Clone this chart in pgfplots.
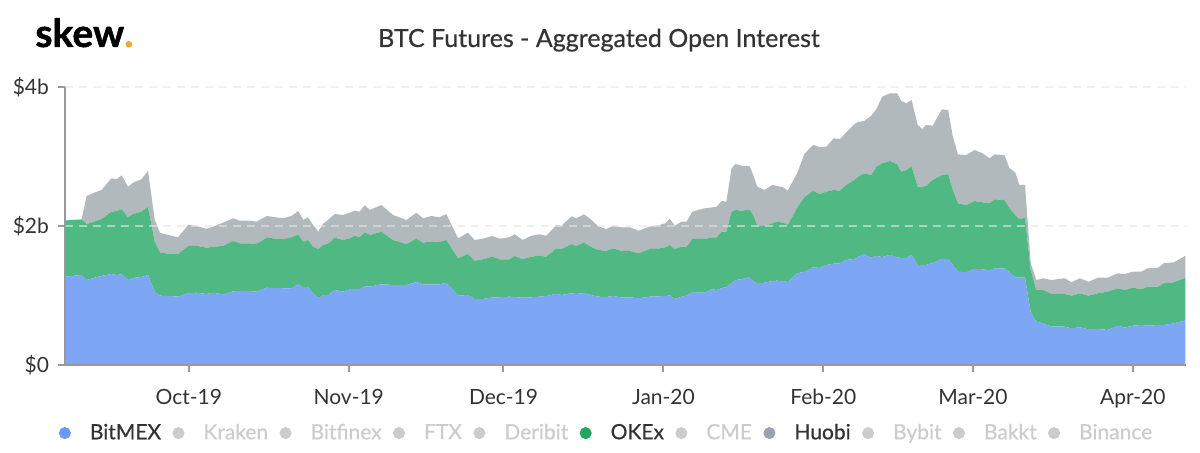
\documentclass[border=0pt]{standalone}
\usepackage{pgfplots}
\usepackage{pgfplotstable}
\pgfplotsset{compat=1.18}
\usepackage{fontspec}
\setmainfont{Lato}
\newfontfamily\latomed{Lato}[FakeBold=0.6]
\newfontfamily\latoblk{Lato}[BoldFeatures={FakeBold=1.2}]
\definecolor{cBitmex}{HTML}{7DA6F5}
\definecolor{cOkex}{HTML}{50B983}
\definecolor{cHuobi}{HTML}{B2B9BC}
\definecolor{dBitmex}{HTML}{6A9AF5}
\definecolor{dOkex}{HTML}{22A663}
\definecolor{dHuobi}{HTML}{9AA4AE}
\definecolor{inact}{HTML}{CCCCCC}
\definecolor{txt}{HTML}{333333}
\definecolor{axgray}{HTML}{999999}
\definecolor{gridc}{HTML}{E6E6E6}
\definecolor{skeworange}{HTML}{F0A92F}

% day = days since 1 Oct 2019; values in $ billions
\pgfplotstableread{
day bitmex okex huobi
-24 1.271 0.809 0
-20.8 1.295 0.799 0
-19.8 1.223 0.806 0.403
-18.5 1.252 0.806 0.417
-16.9 1.281 0.820 0.417
-15 1.309 0.896 0.481
-14 1.295 0.921 0.456
-13 1.305 0.935 0.489
-11.8 1.223 0.902 0.440
-10.8 1.252 0.921 0.450
-9.2 1.266 0.940 0.466
-7.9 1.295 0.978 0.522
-6.6 1.055 0.719 0.312
-5.6 0.997 0.624 0.282
-3.7 0.993 0.604 0.269
-2.1 0.983 0.614 0.240
-0.1 1.036 0.676 0.306
1.5 1.040 0.676 0.283
3.4 1.022 0.666 0.273
4.7 1.040 0.662 0.288
6.6 1.017 0.695 0.335
8.6 1.060 0.724 0.327
9.9 1.065 0.686 0.325
11.8 1.065 0.686 0.325
13.1 1.055 0.686 0.321
15.1 1.112 0.719 0.312
18.3 1.104 0.705 0.302
19.9 1.104 0.734 0.306
21.2 1.161 0.714 0.341
22.2 1.118 0.652 0.317
23.1 1.127 0.672 0.327
24.1 1.032 0.671 0.312
25.1 0.964 0.701 0.253
26.0 1.007 0.719 0.302
27.1 1.007 0.744 0.345
28.3 1.079 0.753 0.341
29.9 1.055 0.744 0.360
31.2 1.089 0.734 0.368
32.2 1.094 0.763 0.364
33.1 1.094 0.744 0.368
34.1 1.127 0.783 0.388
35.1 1.127 0.744 0.360
37.3 1.161 0.757 0.384
39.6 1.151 0.647 0.360
42.2 1.151 0.590 0.345
44.1 1.194 0.623 0.374
45.4 1.161 0.599 0.351
47.0 1.161 0.619 0.364
48.6 1.161 0.609 0.355
49.9 1.184 0.614 0.374
52.2 0.997 0.538 0.288
54.1 1.007 0.590 0.306
55.4 0.950 0.551 0.298
57.0 0.950 0.571 0.296
58.8 0.971 0.587 0.298
60.3 0.974 0.547 0.296
62.1 0.983 0.538 0.317
63.2 0.978 0.590 0.312
64.7 0.968 0.553 0.278
66.4 0.974 0.584 0.302
68.0 0.983 0.590 0.308
69.3 0.993 0.565 0.302
71.3 1.026 0.653 0.340
72.2 1.007 0.658 0.335
74.2 1.032 0.709 0.399
75.1 1.022 0.691 0.399
76.6 1.036 0.724 0.409
77.9 1.007 0.695 0.394
79.3 0.983 0.672 0.345
80.9 0.978 0.666 0.312
82.2 0.993 0.686 0.321
83.7 0.974 0.671 0.337
85.5 0.974 0.666 0.341
87.2 0.960 0.647 0.325
89.3 0.983 0.686 0.321
90.6 0.986 0.683 0.335
92.4 0.993 0.701 0.345
93.2 1.003 0.724 0.378
94.2 0.950 0.715 0.340
95.5 0.983 0.719 0.360
96.5 0.997 0.705 0.360
97.6 1.055 0.758 0.393
98.7 1.040 0.773 0.417
100 1.040 0.773 0.442
101.3 1.089 0.748 0.429
102.3 1.079 0.758 0.440
103.3 1.108 0.810 0.442
104.2 1.118 0.800 0.432
105.2 1.180 1.026 0.624
106 1.223 1.007 0.662
107.3 1.237 0.983 0.643
108.7 1.266 0.974 0.623
109.4 1.209 0.950 0.576
110.2 1.176 0.829 0.561
111.6 1.184 0.816 0.518
113.1 1.209 0.830 0.551
114.0 1.213 0.849 0.514
115.2 1.209 0.839 0.509
116.1 1.194 0.820 0.494
117.9 1.319 0.940 0.499
119.4 1.342 1.079 0.624
121.0 1.406 1.098 0.662
122.3 1.396 1.065 0.676
123.6 1.439 1.055 0.647
125.0 1.458 1.060 0.744
126.2 1.463 1.045 0.744
127.4 1.511 1.079 0.753
129.0 1.525 1.137 0.801
129.7 1.558 1.147 0.791
130.9 1.593 1.165 0.753
132.3 1.544 1.190 0.853
133.3 1.568 1.285 0.830
134.4 1.554 1.348 0.958
135.9 1.583 1.353 0.974
137.3 1.550 1.338 1.022
138.1 1.540 1.242 1.017
139.1 1.540 1.266 0.960
140.1 1.583 1.271 0.960
141.3 1.439 1.127 0.888
142.2 1.439 1.127 0.830
142.9 1.439 1.137 0.878
144.2 1.468 1.194 0.781
146.0 1.525 1.209 0.945
147.2 1.525 1.223 0.921
148.1 1.439 1.079 0.767
149.1 1.342 0.984 0.705
150.7 1.334 0.968 0.719
152.3 1.381 0.978 0.734
153.9 1.377 0.964 0.705
155.2 1.363 0.964 0.647
156.2 1.391 0.993 0.647
158.1 1.391 0.983 0.647
159.1 1.334 0.921 0.576
160.2 1.262 0.896 0.614
161.0 1.256 0.840 0.494
162.1 1.256 0.863 0.471
163.2 0.753 0.614 0.096
164.3 0.623 0.456 0.144
165.6 0.600 0.479 0.168
167.2 0.551 0.471 0.201
169.8 0.551 0.471 0.226
171.1 0.528 0.469 0.193
172.7 0.542 0.489 0.216
174.4 0.514 0.483 0.201
176.2 0.518 0.514 0.224
178.1 0.504 0.551 0.201
180.1 0.565 0.538 0.216
181.4 0.537 0.542 0.230
183.0 0.565 0.547 0.230
184.6 0.576 0.514 0.253
185.9 0.565 0.561 0.265
187.9 0.576 0.551 0.273
189.0 0.576 0.600 0.288
191.0 0.600 0.590 0.288
193.2 0.643 0.613 0.317
}\oidata

\begin{document}
\begin{tikzpicture}
\path[use as bounding box] (-32.5pt,-44pt) rectangle (567.5pt,182.5pt);
\begin{axis}[
  name=ax, at={(0,0)}, anchor=south west,
  scale only axis, width=560.5pt, height=139pt,
  xmin=-24, xmax=193.3, ymin=0, ymax=4,
  stack plots=y,
  axis on top,
  axis x line*=bottom, axis y line*=left,
  axis line style={-, draw=axgray, line width=1pt},
  xtick={0,31,61,92,123,152,183},
  xticklabels={Oct-19,Nov-19,Dec-19,Jan-20,Feb-20,Mar-20,Apr-20},
  ytick={0,2,4},
  yticklabels={\$0,\$2b,\$4b},
  tick align=outside, major tick length=3.5pt,
  tick style={draw=axgray, line width=1pt},
  ymajorgrids,
  grid style={draw=gridc, dash pattern=on 4pt off 3pt, line width=0.8pt, opacity=0.6},
  tick label style={font=\fontsize{10.5}{12}\selectfont, text=txt},
  xticklabel style={yshift=-5pt},
  yticklabel style={xshift=-1pt},
  legend columns=-1,
  legend style={draw=none, fill=none, inner sep=0pt, at={(-0.0058,-0.245)}, anchor=west,
    font=\latomed\fontsize{10.5}{12}\selectfont,
    nodes={inner sep=0pt},
    /tikz/every odd column/.style={column sep=9.5pt},
    /tikz/every even column/.style={column sep=5.7pt}},
  legend image code/.code={\fill[#1] (0pt,0pt) circle (2.8pt);},
]
\addlegendimage{dBitmex}
\addlegendimage{inact}
\addlegendimage{inact}
\addlegendimage{inact}
\addlegendimage{inact}
\addlegendimage{dOkex}
\addlegendimage{inact}
\addlegendimage{dHuobi}
\addlegendimage{inact}
\addlegendimage{inact}
\addlegendimage{inact}
\legend{\textcolor{txt}{BitMEX},\textcolor{inact}{Kraken},\textcolor{inact}{Bitfinex},\textcolor{inact}{FTX},\textcolor{inact}{Deribit},\textcolor{txt}{OKEx},\textcolor{inact}{CME},\textcolor{txt}{Huobi},\textcolor{inact}{Bybit},\textcolor{inact}{Bakkt},\textcolor{inact}{Binance}}
\addplot[draw=none, fill=cBitmex, forget plot] table[x=day, y=bitmex] {\oidata} \closedcycle;
\addplot[draw=none, fill=cOkex, forget plot] table[x=day, y=okex] {\oidata} \closedcycle;
\addplot[draw=none, fill=cHuobi, forget plot] table[x=day, y=huobi] {\oidata} \closedcycle;
\end{axis}
\node[anchor=base west, inner sep=0pt, font=\latoblk\bfseries\fontsize{19.5}{21}\selectfont] at (-15pt,159pt) {skew\textcolor{skeworange}{.}};
\node[anchor=base, inner sep=0pt, text=txt, font=\latomed\fontsize{12.5}{15}\selectfont] at (267pt,159pt) {BTC Futures - Aggregated Open Interest};
\end{tikzpicture}
\end{document}
